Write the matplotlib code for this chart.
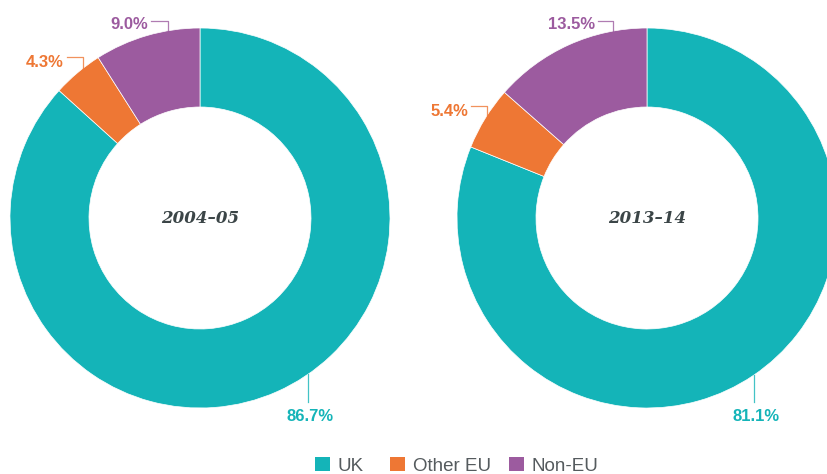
import numpy as np
import matplotlib
matplotlib.use("Agg")
import matplotlib.pyplot as plt
from matplotlib.patches import Rectangle

# ---- data ----
categories = ["UK", "Other EU", "Non-EU"]
years = ["2004–05", "2013–14"]
shares_2004 = [86.7, 4.3, 9.0]
shares_2013 = [81.1, 5.4, 13.5]
colors = ["#14B4B8", "#EE7734", "#9C5B9F"]

W, H = 828, 474
fig = plt.figure(figsize=(W / 100, H / 100), dpi=100)
ax = fig.add_axes([0, 0, 1, 1])

R_OUT, R_IN = 190, 111
CY = 218
centers_x = [200, 647]


def Y(y):
    return H - y


label_font = dict(family=["Liberation Sans", "DejaVu Sans"], fontsize=12, fontweight="bold")

# label layout: (category index, text anchor x, baseline y, leader horizontal y, leader x, kind)
layouts = [
    [(0, 310, 421, None, 308, "bottom"), (1, 64, 67, 57, 83, "left"), (2, 148, 29, 21, 168, "left")],
    [(0, 756, 421, None, 754, "bottom"), (1, 468, 116, 106, 487, "left"), (2, 595, 29, 21, 613, "left")],
]

for cx, yr, vals, lay in zip(centers_x, years, [shares_2004, shares_2013], layouts):
    ax.pie(vals, colors=colors, startangle=90, counterclock=False,
           radius=R_OUT, center=(cx, Y(CY)),
           wedgeprops=dict(width=R_OUT - R_IN, edgecolor="white", linewidth=0.5))
    ax.text(cx, Y(CY), yr, ha="center", va="center", color="#3B4547",
            family=["DejaVu Serif"], style="italic", fontweight="bold", fontsize=12)
    for (i, tx, base, hy, lx, kind) in lay:
        col = colors[i]
        edge_y = CY - np.sqrt(R_OUT ** 2 - (lx - cx) ** 2)
        txt = f"{vals[i]:.1f}%"
        if kind == "bottom":
            edge_y = CY + np.sqrt(R_OUT ** 2 - (lx - cx) ** 2)
            ax.plot([lx, lx], [Y(edge_y), Y(402)], color=col, lw=0.9, alpha=0.8)
            ax.text(tx, Y(base), txt, ha="center", va="baseline", color=col, **label_font)
        else:
            ax.plot([tx + 3, lx, lx], [Y(hy), Y(hy), Y(edge_y)], color=col, lw=0.9, alpha=0.8)
            ax.text(tx, Y(base), txt, ha="right", va="baseline", color=col, **label_font)

# legend
legend_x = [315, 390, 509]
for x, c, name in zip(legend_x, colors, categories):
    ax.add_patch(Rectangle((x, Y(471)), 15, 14, color=c, lw=0))
    ax.text(x + 23, Y(471), name, ha="left", va="baseline", color="#555B5E",
            family=["Liberation Sans Narrow", "Liberation Sans", "DejaVu Sans"], fontsize=13.5)

ax.set_xlim(0, W)
ax.set_ylim(0, H)
ax.set_aspect("auto")
ax.axis("off")
fig.savefig("out.png", dpi=100, facecolor="white")
